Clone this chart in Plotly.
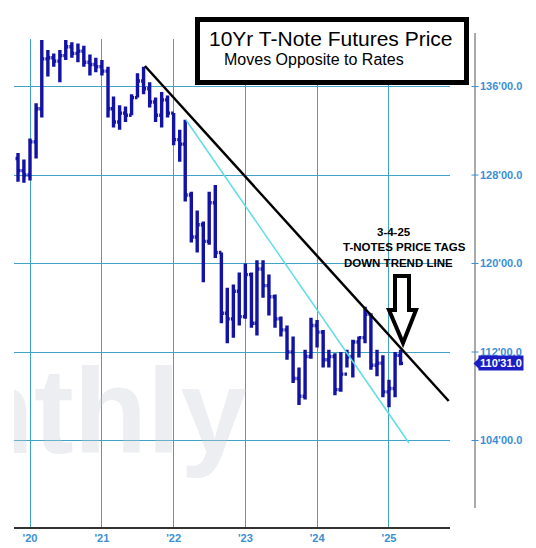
import plotly.graph_objects as go

# ---------------- data ----------------
months = ["2019-11-01", "2019-12-01"] + [f"{y}-{m:02d}-01" for y in range(2020, 2025) for m in range(1, 13)] + ["2025-01-01", "2025-02-01", "2025-03-01"]

opens = [129.5, 128.4, 128.0, 131.0, 134.0, 138.5, 138.6, 138.3, 138.8, 139.6, 139.0, 139.2, 138.2, 138.0,
         137.8, 137.4, 134.0, 132.8, 133.6, 133.4, 135.0, 136.5, 135.8, 134.6, 133.4, 134.8,
         133.6, 131.2, 130.8, 126.2, 122.4, 123.5, 122.0, 125.5, 121.0, 115.5, 115.0, 117.5,
         115.2, 119.0, 114.6, 119.5, 118.0, 117.0, 115.0, 114.0, 112.0, 109.6, 108.0, 111.6,
         114.4, 113.8, 111.3, 111.6, 108.6, 110.0, 111.6, 112.9, 113.3, 115.4, 110.8, 111.0,
         108.4, 108.7, 111.7]
highs = [130.0, 129.4, 131.3, 134.5, 140.2, 139.3, 139.0, 139.3, 140.2, 140.0, 139.9, 139.7, 138.9, 138.6,
         138.4, 137.8, 135.1, 134.3, 134.2, 135.3, 137.2, 137.8, 136.4, 135.0, 135.5, 135.2,
         133.6, 132.1, 133.0, 126.5, 124.8, 123.8, 126.5, 127.1, 121.0, 117.8, 118.1, 119.2,
         120.0, 119.2, 120.3, 120.3, 119.0, 117.2, 115.2, 114.4, 113.4, 110.6, 112.2, 115.1,
         114.9, 114.0, 112.2, 111.9, 112.0, 112.2, 113.1, 113.4, 116.1, 115.5, 112.2, 111.7,
         109.5, 112.0, 112.2]
lows = [127.4, 127.3, 127.5, 129.5, 133.2, 136.9, 137.8, 136.4, 138.4, 138.6, 138.2, 137.8, 137.0, 137.3,
        137.0, 133.2, 132.3, 132.1, 132.8, 133.4, 135.0, 135.3, 134.1, 132.8, 132.3, 133.2,
        130.7, 129.2, 125.6, 121.9, 121.0, 118.3, 121.7, 120.5, 114.6, 112.8, 113.3, 114.4,
        115.0, 114.2, 113.5, 116.9, 115.3, 114.2, 113.4, 111.3, 109.2, 107.2, 107.7, 111.4,
        112.4, 110.6, 110.6, 108.1, 108.4, 110.6, 109.7, 111.5, 112.8, 110.4, 109.8, 107.9,
        107.0, 107.9, 110.8]
closes = [128.4, 128.0, 131.0, 134.0, 138.5, 138.6, 138.3, 138.8, 139.6, 139.0, 139.2, 138.2, 138.0, 137.8,
          137.4, 134.0, 132.8, 133.6, 133.4, 135.0, 136.5, 135.8, 134.6, 133.4, 134.8, 133.6,
          131.2, 130.8, 126.2, 122.4, 123.5, 122.0, 125.5, 121.0, 115.5, 115.0, 117.5, 115.2,
          119.0, 114.6, 119.5, 118.0, 117.0, 115.0, 114.0, 112.0, 109.6, 108.0, 111.6, 114.4,
          113.8, 111.3, 111.6, 108.6, 110.0, 111.6, 112.9, 113.3, 115.4, 110.8, 111.0, 108.4,
          108.7, 111.7, 110.97]

y_ticks = [104, 112, 120, 128, 136]

trend_black_dates = ["2021-08-08", "2025-11-01"]
trend_black_values = [137.86, 107.57]
trend_cyan_dates = ["2022-03-05", "2025-04-13"]
trend_cyan_values = [132.98, 103.77]

title_main = "10Yr T-Note Futures Price"
title_sub = "Moves Opposite to Rates"
note_lines = ["3-4-25", "T-NOTES PRICE TAGS", "DOWN TREND LINE"]
watermark = "Monthly"


def fmt32(v):
    whole = int(v)
    frac = round((v - whole) * 32)
    if frac == 32:
        whole, frac = whole + 1, 0
    return f"{whole}'{frac:02d}.0"


# ---------------- layout geometry (pixels) ----------------
W, H = 536, 548
PL, PR, PT, PB = 14, 450, 39, 527
Y_RANGE = [96.18, 140.3]
X_RANGE = ["2019-10-11 14:00", "2025-11-07 12:00"]
GRID = "#3ea3c4"
LBL = "#3b8fd4"
BAR = "#1212a4"
TAG = "#1c1cc4"
FONT = "Liberation Sans, Arial, sans-serif"


def px(x):
    return (x - PL) / (PR - PL)


def py(y):
    return (PB - y) / (PB - PT)


units_per_px = (Y_RANGE[1] - Y_RANGE[0]) / (PB - PT)

fig = go.Figure()

# watermark (clipped to plot area)
fig.add_trace(go.Scatter(
    x=["2023-01-10"], y=[105.6], mode="text", text=[watermark],
    textposition="middle left", cliponaxis=True, hoverinfo="skip", showlegend=False,
    textfont=dict(size=120, color="rgba(200,203,214,0.33)", family=FONT, weight="bold"),
))

fig.add_trace(go.Ohlc(
    x=months, open=opens, high=highs, low=lows, close=closes,
    increasing=dict(line=dict(color=BAR, width=3.4)),
    decreasing=dict(line=dict(color=BAR, width=3.4)),
    tickwidth=0.45, showlegend=False, hoverinfo="skip",
))

fig.add_trace(go.Scatter(x=trend_cyan_dates, y=trend_cyan_values, mode="lines",
                         line=dict(color="#5fdde6", width=1.5), showlegend=False, hoverinfo="skip"))
fig.add_trace(go.Scatter(x=trend_black_dates, y=trend_black_values, mode="lines",
                         line=dict(color="#000000", width=2.5), showlegend=False, hoverinfo="skip"))

shapes = []
# title box
shapes.append(dict(type="rect", xref="paper", yref="paper", x0=px(197.5), x1=px(466.5),
                   y0=py(82.5), y1=py(19.5), line=dict(color="black", width=5),
                   fillcolor="white", layer="above"))
# right axis line
shapes.append(dict(type="line", xref="paper", yref="paper", x0=px(475), x1=px(475),
                   y0=py(508), y1=py(33), line=dict(color="#555555", width=1)))
# tick dashes on right axis
for t in y_ticks:
    shapes.append(dict(type="line", xref="paper", yref="y", x0=px(471.5), x1=px(478.5),
                       y0=t, y1=t, line=dict(color=LBL, width=1)))
# hollow arrow
pts = [(395, 276), (409, 276), (409, 310), (416, 310), (403, 343), (389, 310), (395, 310)]
path = "M " + " L ".join(f"{px(a):.5f},{py(b):.5f}" for a, b in pts) + " Z"
shapes.append(dict(type="path", xref="paper", yref="paper", path=path,
                   line=dict(color="black", width=4), fillcolor="white", layer="above"))
# price tag pointer
last = closes[-1]
h = 5.5 * units_per_px
tri = f"M {px(473.5):.5f},{last:.4f} L {px(479):.5f},{last + h:.4f} L {px(479):.5f},{last - h:.4f} Z"
shapes.append(dict(type="path", xref="paper", yref="y", path=tri,
                   line=dict(color=TAG, width=0), fillcolor=TAG))

annotations = [
    dict(text=title_main, x=px(330.5), y=py(38.5), xref="paper", yref="paper",
         showarrow=False, xanchor="center", yanchor="middle",
         font=dict(family=FONT, size=21, color="black")),
    dict(text=title_sub, x=px(314), y=py(59), xref="paper", yref="paper",
         showarrow=False, xanchor="center", yanchor="middle",
         font=dict(family=FONT, size=16, color="black")),
    dict(text="<b>" + fmt32(last) + "</b>", x=px(478), y=last, xref="paper", yref="y",
         showarrow=False, xanchor="left", yanchor="middle", bgcolor=TAG,
         borderpad=1, font=dict(family=FONT, size=11, color="white")),
]
for i, (line, cx) in enumerate(zip(note_lines, [394, 404, 398])):
    annotations.append(dict(text="<b>" + line + "</b>", x=px(cx), y=py(231.5 + 15.5 * i),
                            xref="paper", yref="paper", showarrow=False,
                            xanchor="center", yanchor="middle",
                            font=dict(family=FONT, size=11.5, color="black")))

fig.update_layout(
    width=W, height=H,
    margin=dict(l=PL, r=W - PR, t=PT, b=H - PB, pad=0, autoexpand=False),
    paper_bgcolor="white", plot_bgcolor="white",
    showlegend=False,
    shapes=shapes, annotations=annotations,
    xaxis=dict(type="date", range=X_RANGE, rangeslider=dict(visible=False),
               tick0="2020-01-01", dtick="M12", tickformat="'%y",
               showgrid=True, gridcolor=GRID, gridwidth=1,
               showline=True, linecolor="#333333", linewidth=1.5,
               ticks="", zeroline=False, automargin=False, ticklabelstandoff=0,
               tickfont=dict(family=FONT, size=11, color=LBL, weight="bold")),
    yaxis=dict(range=Y_RANGE, side="right", tickvals=y_ticks,
               ticktext=[fmt32(t) for t in y_ticks],
               showgrid=True, gridcolor=GRID, gridwidth=1, zeroline=False,
               showline=False, ticks="", ticklabelstandoff=29, automargin=False,
               tickfont=dict(family=FONT, size=11, color=LBL, weight="bold")),
)

fig.write_html("out.html", config={"displayModeBar": False},
               post_script="document.body.style.margin='0';document.body.style.overflow='hidden';")
